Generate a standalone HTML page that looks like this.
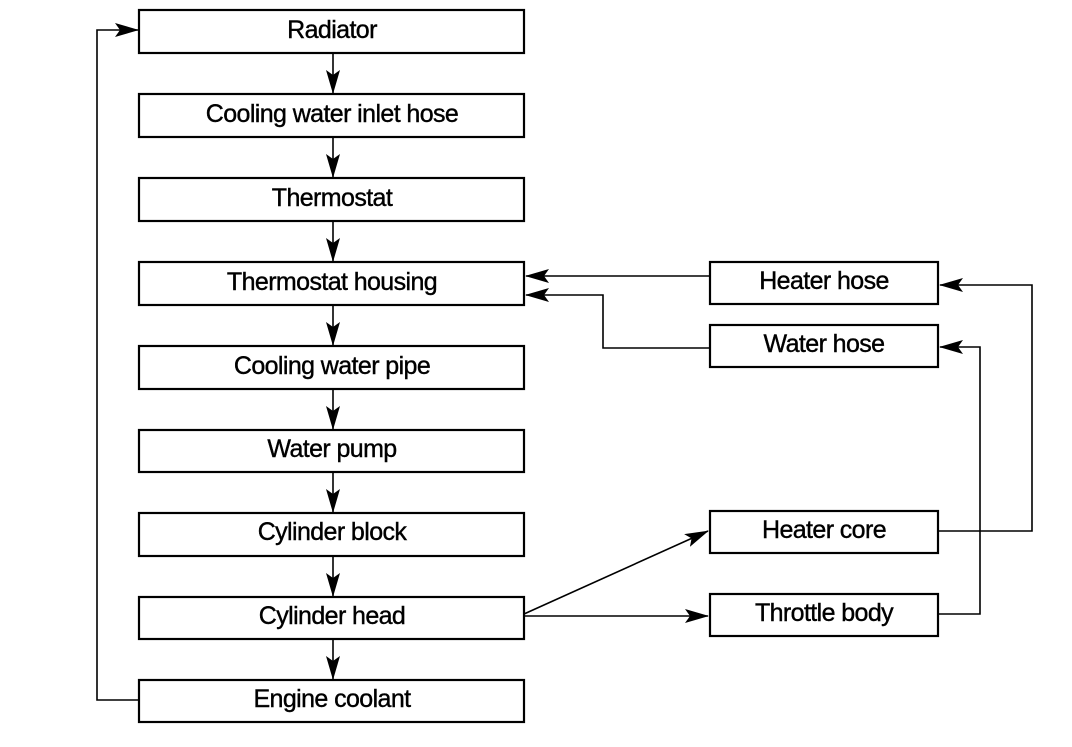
<!DOCTYPE html>
<html><head><style>
body{margin:0;background:#fff;width:1072px;height:742px;overflow:hidden}
svg text{font-family:"Liberation Sans",Arial,sans-serif;font-size:25px;fill:#000;stroke:#000;stroke-width:0.4;text-anchor:middle;letter-spacing:-0.6px}
</style></head><body>
<svg width="1072" height="742" viewBox="0 0 1072 742" xmlns="http://www.w3.org/2000/svg">
<defs><marker id="a" markerWidth="24" markerHeight="14" refX="23" refY="7" orient="auto" markerUnits="userSpaceOnUse"><path d="M0,0 L24,7 L0,14 L5,7 z" fill="#000"/></marker></defs>
<g fill="none" stroke="#000" stroke-width="2.2">
<rect x="139" y="10" width="385" height="43"/>
<rect x="139" y="94" width="385" height="43"/>
<rect x="139" y="178" width="385" height="43"/>
<rect x="139" y="262" width="385" height="43"/>
<rect x="139" y="346" width="385" height="43"/>
<rect x="139" y="430" width="385" height="42"/>
<rect x="139" y="513" width="385" height="43"/>
<rect x="139" y="597" width="385" height="42"/>
<rect x="139" y="680" width="385" height="42"/>
<rect x="710" y="262" width="228" height="42"/>
<rect x="710" y="325" width="228" height="42"/>
<rect x="710" y="511" width="228" height="42"/>
<rect x="710" y="594" width="228" height="42"/>
</g>
<g fill="none" stroke="#000" stroke-width="1.6">
<line x1="333" y1="53" x2="333" y2="93" marker-end="url(#a)"/>
<line x1="333" y1="137" x2="333" y2="177" marker-end="url(#a)"/>
<line x1="333" y1="221" x2="333" y2="261" marker-end="url(#a)"/>
<line x1="333" y1="305" x2="333" y2="345" marker-end="url(#a)"/>
<line x1="333" y1="389" x2="333" y2="429" marker-end="url(#a)"/>
<line x1="333" y1="472" x2="333" y2="512" marker-end="url(#a)"/>
<line x1="333" y1="556" x2="333" y2="596" marker-end="url(#a)"/>
<line x1="333" y1="639" x2="333" y2="679" marker-end="url(#a)"/>
<polyline points="139,700 97,700 97,30 138,30" marker-end="url(#a)"/>
<line x1="710" y1="276" x2="526" y2="276" marker-end="url(#a)"/>
<polyline points="710,348 603,348 603,295 526,295" marker-end="url(#a)"/>
<polyline points="938,531 1032,531 1032,285 940,285" marker-end="url(#a)"/>
<polyline points="938,614 980,614 980,347 940,347" marker-end="url(#a)"/>
<line x1="524" y1="614" x2="708" y2="531" marker-end="url(#a)"/>
<line x1="524" y1="616" x2="708" y2="616" marker-end="url(#a)"/>
</g>
<text x="332" y="38">Radiator</text>
<text x="332" y="122">Cooling water inlet hose</text>
<text x="332" y="206">Thermostat</text>
<text x="332" y="290">Thermostat housing</text>
<text x="332" y="374">Cooling water pipe</text>
<text x="332" y="457">Water pump</text>
<text x="332" y="540">Cylinder block</text>
<text x="332" y="624">Cylinder head</text>
<text x="332" y="707">Engine coolant</text>
<text x="824" y="289">Heater hose</text>
<text x="824" y="352">Water hose</text>
<text x="824" y="538">Heater core</text>
<text x="824" y="621">Throttle body</text>
</svg>
</body></html>
